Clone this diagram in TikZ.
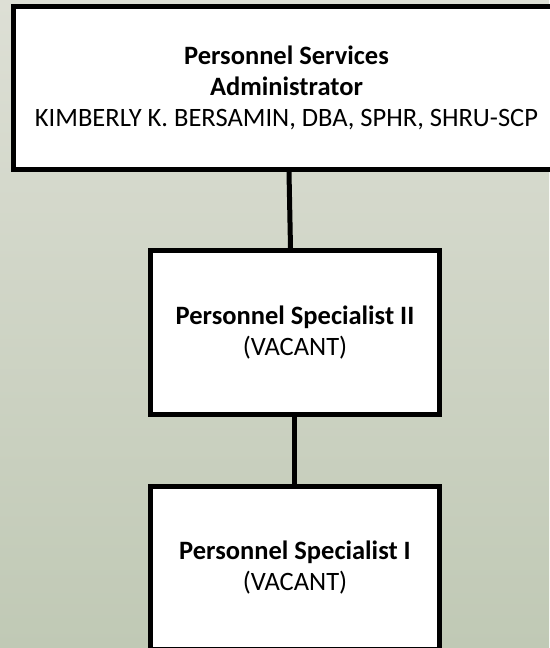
\documentclass[tikz,border=0pt]{standalone}
\usepackage{fontspec}
\setmainfont{Carlito}
\usetikzlibrary{positioning}
\definecolor{bgtop}{RGB}{221,223,213}
\definecolor{bgmid}{RGB}{199,206,189}
\definecolor{bgbot}{RGB}{192,201,181}

\begin{document}
\begin{tikzpicture}[x=1pt, y=1pt, node distance=76pt,
    box/.style={draw, line width=5pt, fill=white, align=center, minimum width=289pt, minimum height=164pt, font=\fontsize{26.5}{31}\selectfont},
    link/.style={line width=5pt}]
      \useasboundingbox (0,0) rectangle (549,-648);
      \fill[top color=bgtop, middle color=bgmid, bottom color=bgbot] (0,0) rectangle (549,-648);

      \node (Adm) [box, minimum width=546pt, minimum height=163.5pt] at (286.5,-87.75) {\textbf{Personnel Services}\\\textbf{Administrator}\\KIMBERLY K. BERSAMIN, DBA, SPHR, SHRU-SCP};
      \node (Sp2) [box, below=of Adm, xshift=8.5pt] {\textbf{Personnel Specialist II}\\(VACANT)};
      \node (Sp1) [box, below=67pt of Sp2, minimum height=163pt] {\textbf{Personnel Specialist I}\\(VACANT)};

      \path[link]
        ([xshift=2.5pt]Adm.south) edge ([xshift=-4.5pt]Sp2.north)
        ([xshift=-0.5pt]Sp2.south) edge ([xshift=-0.5pt]Sp1.north);
    \end{tikzpicture}
\end{document}
